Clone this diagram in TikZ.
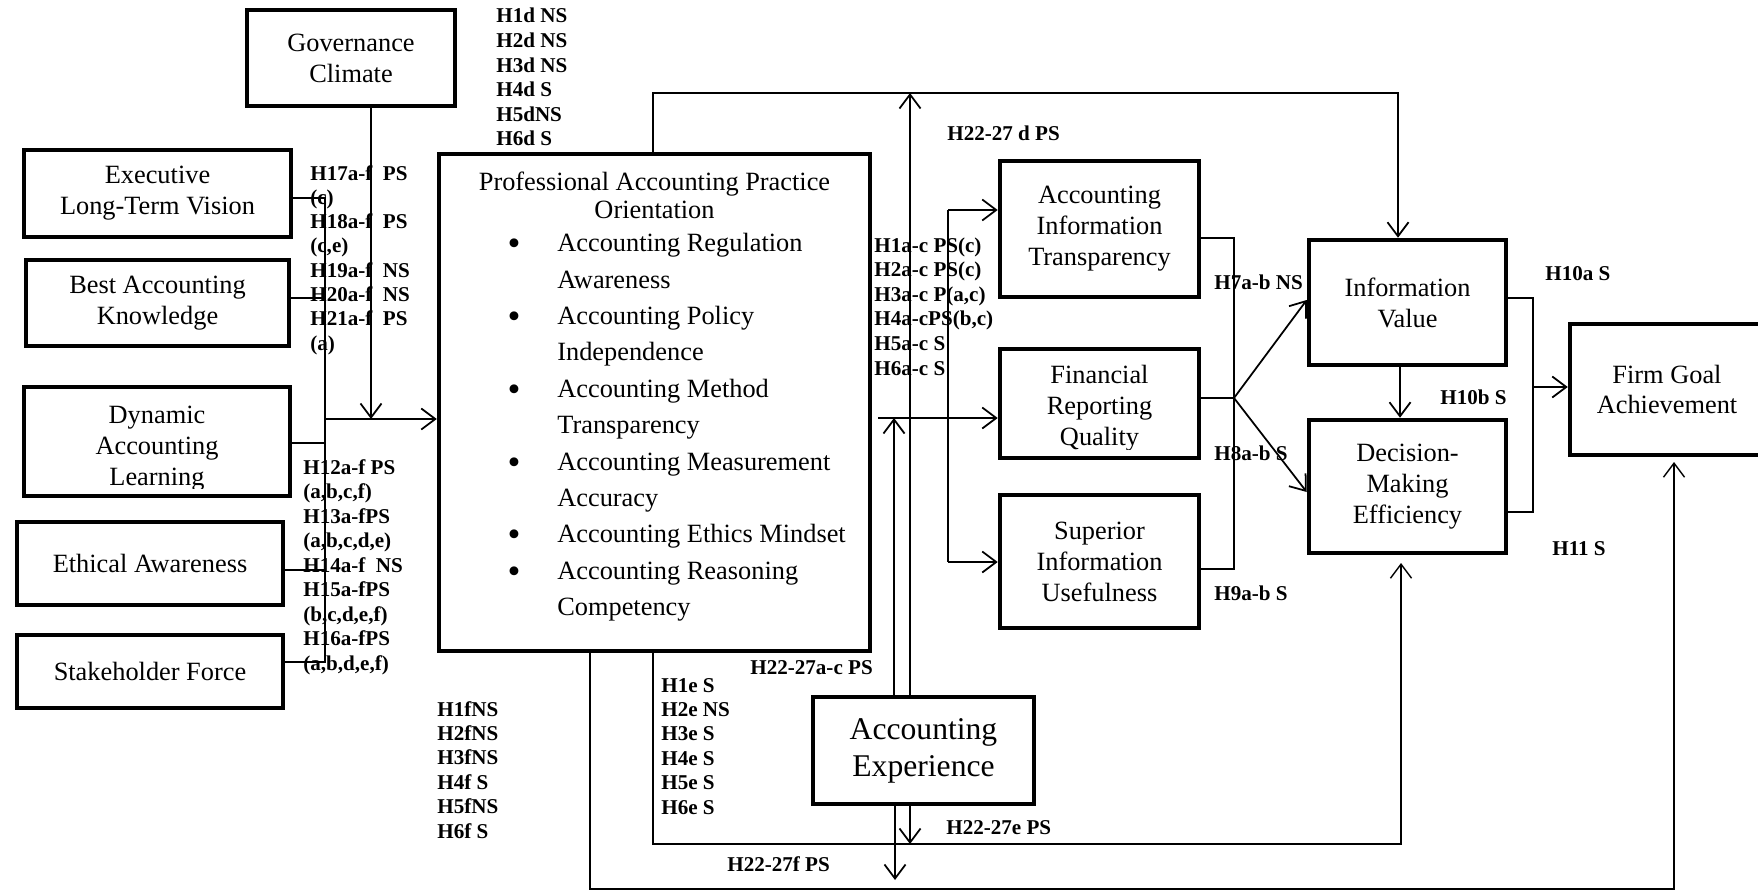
\documentclass[tikz,border=0pt]{standalone}
\usepackage{fontspec}
\setmainfont{Liberation Serif}
\usetikzlibrary{arrows.meta}

\begin{document}
\begin{tikzpicture}[x=0.02cm, y=-0.02cm,
  box/.style={draw, line width=2.6pt, inner sep=0pt, align=center,
              font=\fontsize{15}{17.6}\selectfont},
  txt/.style={inner sep=0pt, align=center, font=\fontsize{15}{17.6}\selectfont},
  ptxt/.style={inner sep=0pt, anchor=base west, font=\fontsize{15}{17.6}\selectfont},
  bul/.style={inner sep=0pt, anchor=base, font=\fontsize{21}{21}\selectfont},
  lab/.style={inner sep=0pt, anchor=base west, font=\fontsize{12}{14}\selectfont\bfseries},
  ln/.style={line width=0.75pt},
  arr/.style={line width=1pt, -{Straight Barb[length=8pt,width=12pt]}}
]
\useasboundingbox (0,0) rectangle (1758,892);
\clip (0,0) rectangle (1758,892);

% ---------- boxes ----------
\node[box, minimum width=4.16cm, minimum height=1.92cm] (gov) at (351,58) {Governance\\Climate};
\node[box, minimum width=5.34cm, minimum height=1.74cm] (exec) at (157.5,193.5) {Executive\\Long-Term Vision};
\node[box, minimum width=5.26cm, minimum height=1.72cm] (bak) at (157.5,303) {Best Accounting\\Knowledge};
\node[box, minimum width=5.32cm, minimum height=2.18cm] (dal) at (157,441.5) {};
\begin{scope}
  \clip (22,385) rectangle (292,488);
  \node[txt] (dalT) at (157,449) {Dynamic\\Accounting\\Learning};
\end{scope}
\node[box, minimum width=5.32cm, minimum height=1.66cm] (ea) at (150,563.5) {Ethical Awareness};
\node[box, minimum width=5.32cm, minimum height=1.46cm] (sf) at (150,671.5) {Stakeholder Force};

\node[box, minimum width=8.62cm, minimum height=9.94cm] (papo) at (654.5,402.5) {};
\node[txt, font=\fontsize{15}{16}\selectfont] (papoT) at (654.5,195) {Professional Accounting Practice\\Orientation};
\foreach \t [count=\i from 0] in {Accounting Regulation, Awareness, Accounting Policy,
    Independence, Accounting Method, Transparency, Accounting Measurement, Accuracy,
    Accounting Ethics Mindset, Accounting Reasoning, Competency}
  \node[ptxt] (pl\i) at (557, {251.7+36.4*\i}) {\t};
\foreach \i in {0,2,4,6,8,9}
  \node[bul] (pb\i) at (514, {255.7+36.4*\i}) {\textbullet};

\node[box, minimum width=3.98cm, minimum height=2.72cm] (ait) at (1099.5,229) {Accounting\\Information\\Transparency};
\node[box, minimum width=3.98cm, minimum height=2.18cm] (frq) at (1099.5,403.5) {};
\begin{scope}
  \clip (998,347) rectangle (1201,449);
  \node[txt] (frqT) at (1099.5,408) {Financial\\Reporting\\Quality};
\end{scope}
\node[box, minimum width=3.98cm, minimum height=2.66cm] (siu) at (1099.5,561.5) {Superior\\Information\\Usefulness};
\node[box, minimum width=3.94cm, minimum height=2.50cm] (iv) at (1407.5,302.5) {Information\\Value};
\node[box, minimum width=3.94cm, minimum height=2.66cm] (dme) at (1407.5,486.5) {Decision-\\Making\\Efficiency};
\node[box, minimum width=3.88cm, minimum height=2.62cm] (fga) at (1667,389.5) {Firm Goal\\Achievement};
\node[box, font=\fontsize{18}{21}\selectfont, minimum width=4.42cm, minimum height=2.14cm] (ae) at (923.5,750.5) {Accounting\\Experience};

% ---------- left inputs ----------
\coordinate (busT) at (325,198);
\coordinate (busB) at (325,662);
\coordinate (bakJ) at (325,298);
\coordinate (dalJ) at (325,443);
\coordinate (eaJ)  at (325,570);
\coordinate (mainJ) at (325,419);
\coordinate (govJ) at (371,419);
\draw[ln] (exec.east |- busT) -- (busT) -- (busB) -- (sf.east |- busB);
\draw[ln] (bak.east |- bakJ) -- (bakJ);
\draw[ln] (dal.east |- dalJ) -- (dalJ);
\draw[ln] (ea.east |- eaJ) -- (eaJ);
\draw[arr] (mainJ) -- (mainJ -| papo.west);
\draw[arr] (govJ |- gov.south) -- (govJ);

% ---------- top loop and experience links ----------
\coordinate (topL) at (653,93);
\coordinate (topR) at (1398,93);
\draw[arr] (topL |- papo.north) -- (topL) -- (topR) -- (topR |- iv.north);
\coordinate (upD) at (910,93);
\draw[arr] (upD |- ae.north) -- (upD);
\coordinate (upF) at (894,418);
\draw[arr] (upF |- ae.north) -- (upF);

% ---------- outputs of the orientation ----------
\coordinate (frqS) at (878,418);
\draw[arr] (frqS) -- (frqS -| frq.west);
\coordinate (aitJ) at (948,210);
\coordinate (siuJ) at (948,562);
\draw[ln] (aitJ) -- (siuJ);
\draw[arr] (aitJ) -- (aitJ -| ait.west);
\draw[arr] (siuJ) -- (siuJ -| siu.west);

% ---------- quality to value / efficiency ----------
\coordinate (rA) at (1234,238);
\coordinate (rF) at (1234,398);
\coordinate (rS) at (1234,569);
\coordinate (rIV) at (1234,300);
\coordinate (rDM) at (1234,492);
\draw[ln] (ait.east |- rA) -- (rA) -- (rS) -- (siu.east |- rS);
\draw[ln] (frq.east |- rF) -- (rF);
\draw[arr] (rF) -- (iv.west |- rIV);
\draw[arr] (rF) -- (dme.west |- rDM);
\coordinate (vd) at (1400,0);
\draw[arr] (vd |- iv.south) -- (vd |- dme.north);

% ---------- to firm goal ----------
\coordinate (gA) at (1533,298);
\coordinate (gB) at (1533,512);
\coordinate (gM) at (1533,387);
\draw[ln] (iv.east |- gA) -- (gA) -- (gB) -- (dme.east |- gB);
\draw[arr] (gM) -- (gM -| fga.west);

% ---------- bottom loops ----------
\coordinate (bL) at (653,844);
\coordinate (bR) at (1401,844);
\coordinate (dmeIn) at (1401,563);
\draw[arr, line width=0.8pt] (bL |- papo.south) -- (bL) -- (bR) -- (dmeIn);
\coordinate (cL) at (590,889);
\coordinate (cR) at (1674,889);
\coordinate (fgaIn) at (1674,462);
\draw[arr, line width=0.8pt] (cL |- papo.south) -- (cL) -- (cR) -- (fgaIn);
\coordinate (dE) at (910,844);
\coordinate (dF) at (895,880);
\draw[arr] (dE |- ae.south) -- (dE);
\draw[arr] (dF |- ae.south) -- (dF);

% ---------- hypothesis labels ----------
\foreach \t [count=\i from 0] in {H1d NS, H2d NS, H3d NS, H4d S, H5dNS, H6d S}
  \node[lab] (ld\i) at (496, {23+24.6*\i}) {\t};
\foreach \t [count=\i from 0] in {H17a-f\ \ PS, {(c)}, H18a-f\ \ PS, {(c,e)},
    H19a-f\ \ NS, H20a-f\ \ NS, H21a-f\ \ PS, {(a)}}
  \node[lab] (lm\i) at (310, {180+24.3*\i}) {\t};
\foreach \t [count=\i from 0] in {H12a-f PS, {(a,b,c,f)}, H13a-fPS, {(a,b,c,d,e)},
    H14a-f\ \ NS, H15a-fPS, {(b,c,d,e,f)}, H16a-fPS, {(a,b,d,e,f)}}
  \node[lab] (ll\i) at (303, {474+24.5*\i}) {\t};
\foreach \t [count=\i from 0] in {{H1a-c PS(c)}, {H2a-c PS(c)}, {H3a-c P(a,c)},
    {H4a-cPS(b,c)}, {H5a-c S}, {H6a-c S}}
  \node[lab] (lc\i) at (874, {252+24.6*\i}) {\t};
\foreach \t [count=\i from 0] in {H1e S, H2e NS, H3e S, H4e S, H5e S, H6e S}
  \node[lab] (le\i) at (661, {692+24.4*\i}) {\t};
\foreach \t [count=\i from 0] in {H1fNS, H2fNS, H3fNS, H4f S, H5fNS, H6f S}
  \node[lab] (lf\i) at (437, {716+24.4*\i}) {\t};

\node[lab] (l22d) at (947,140) {H22-27 d PS};
\node[lab] (l7)   at (1214,289) {H7a-b NS};
\node[lab] (l8)   at (1214,460) {H8a-b S};
\node[lab] (l9)   at (1214,600) {H9a-b S};
\node[lab] (l10a) at (1545,280) {H10a S};
\node[lab] (l10b) at (1440,404) {H10b S};
\node[lab] (l11)  at (1552,555) {H11 S};
\node[lab] (l22c) at (750,674) {H22-27a-c PS};
\node[lab] (l22e) at (946,834) {H22-27e PS};
\node[lab] (l22f) at (727,871) {H22-27f PS};
\end{tikzpicture}
\end{document}
